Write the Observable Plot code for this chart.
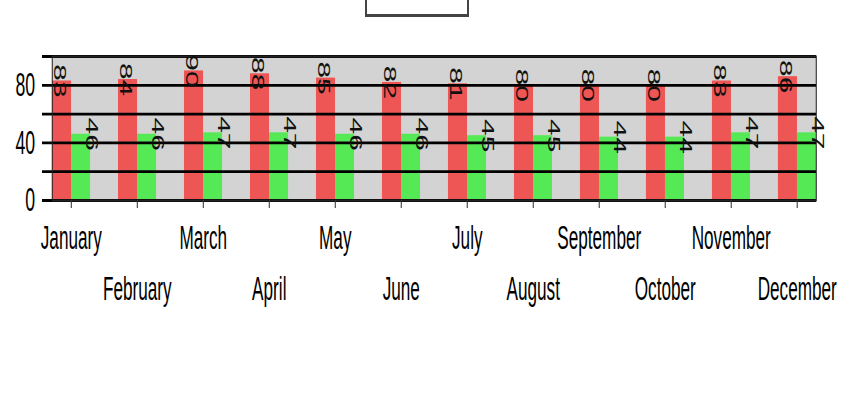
<!DOCTYPE html>
<html><head><meta charset="utf-8">
<script src="https://cdn.jsdelivr.net/npm/d3@7"></script>
<script src="https://cdn.jsdelivr.net/npm/@observablehq/plot@0.6"></script>
<style>
body{margin:0;background:#fff;}
#wrap{position:relative;width:841px;height:417px;overflow:hidden;background:#fff;}
#legend{position:absolute;left:365px;top:-6px;width:100px;height:18px;border:2px solid #444;border-bottom-width:3px;background:#fff;}
#chart{position:absolute;left:0;top:0;transform-origin:0 0;transform:scaleX(0.52);}
#chart svg{max-width:none !important;}
</style></head><body>
<div id="wrap"><div id="chart"></div><div id="legend"></div></div>
<script>
const months = ["January","February","March","April","May","June","July","August","September","October","November","December"];
const redValues = [83,84,90,88,85,82,81,80,80,80,83,86];
const greenValues = [46,46,47,47,46,46,45,45,44,44,47,47];
const yTicks = [0,20,40,60,80,100];
const yLabels = [0,40,80];

const rows = months.map((m,i)=>({month:m, red:redValues[i], green:greenValues[i], row:i%2}));
const SX = 0.52;
const W = Math.round(841/SX);
const half = 36.6;
document.getElementById("chart").style.width = W + "px";

const chart = Plot.plot({
  width: W,
  height: 320,
  marginLeft: 52/SX,
  marginRight: W - 816/SX,
  marginTop: 56,
  marginBottom: 120,
  style: {fontFamily: "'Liberation Sans', Arial, sans-serif", fontSize: "33px", background: "transparent", color: "black", maxWidth: "none", width: W + "px", height: "320px"},
  x: {type: "band", domain: months, paddingInner: 0.423, paddingOuter: 0, round: false, axis: null},
  y: {domain: [0,100], axis: null},
  marks: [
    Plot.frame({fill: "#d3d3d3", stroke: null}),
    Plot.barY(rows, {x: "month", y: "red", fill: "#ee5656", insetRight: half}),
    Plot.barY(rows, {x: "month", y: "green", fill: "#55ea55", insetLeft: half}),
    Plot.ruleY(yTicks, {stroke: "black", strokeWidth: 2.8, insetLeft: -10/SX}),
    Plot.frame({stroke: "#222", strokeWidth: 2, fill: null}),
    Plot.axisX({tickSize: 8, tickFormat: () => "", strokeWidth: 2, stroke: "#333", label: null}),
    Plot.text(yLabels, {x: null, y: d => d, text: d => String(d), frameAnchor: "left", textAnchor: "end", lineAnchor: "middle", dx: -33, fontSize: 34, fill: "black"}),
    Plot.text(rows, {x: "month", y: "red", text: d => String(d.red), rotate: 90, dx: -23, fontSize: 30, fill: "#111"}),
    Plot.text(rows, {x: "month", y: "green", text: d => String(d.green), rotate: 90, dx: 38.5, fontSize: 30, fill: "#111"}),
    Plot.text(rows.filter(d => d.row === 0), {x: "month", text: "month", frameAnchor: "bottom", lineAnchor: "middle", dy: 38, fontSize: 33, fill: "black"}),
    Plot.text(rows.filter(d => d.row === 1), {x: "month", text: "month", frameAnchor: "bottom", lineAnchor: "middle", dy: 88.5, fontSize: 33, fill: "black"})
  ]
});
document.getElementById("chart").appendChild(chart);
</script>
</body></html>
